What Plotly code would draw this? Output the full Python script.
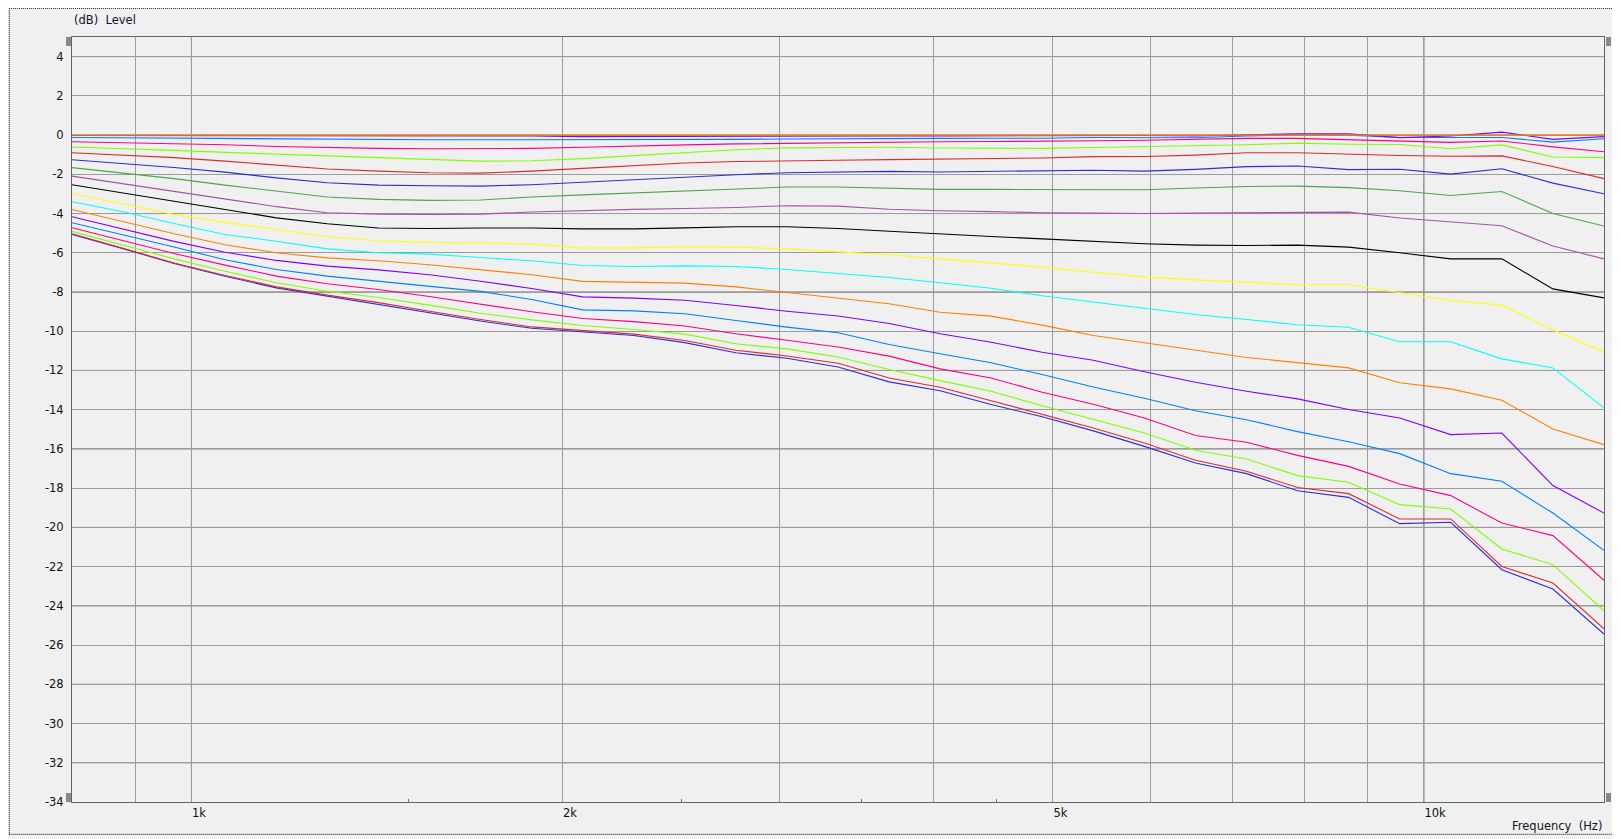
import plotly.graph_objects as go

# ---------------- data ----------------
freqs_hz = [800, 880, 968, 1065, 1172, 1289, 1418, 1560, 1716, 1888, 2077, 2285, 2514, 2765,
            3042, 3347, 3682, 4050, 4455, 4901, 5392, 5932, 6526, 7179, 7897, 8688, 9558,
            10514, 11567, 12725, 14000]

s01_orange = [0.0] * 31
s02_purple = [-0.02, -0.02, -0.02, -0.02, -0.02, -0.02, -0.02, -0.02, -0.02, -0.05, -0.08, -0.08,
              -0.08, -0.08, -0.08, -0.06, -0.05, -0.04, -0.03, -0.02, -0.02, -0.02, -0.05, 0.02,
              0.07, 0.07, -0.13, -0.05, 0.15, -0.22, -0.08]
s03_azure = [-0.12, -0.14, -0.16, -0.18, -0.20, -0.22, -0.23, -0.24, -0.24, -0.24, -0.23, -0.22,
             -0.22, -0.22, -0.20, -0.18, -0.17, -0.17, -0.16, -0.16, -0.12, -0.12, -0.14, -0.05,
             0.02, 0.0, -0.12, -0.12, -0.12, -0.36, -0.19]
s04_pink = [-0.34, -0.39, -0.44, -0.49, -0.58, -0.64, -0.68, -0.70, -0.70, -0.68, -0.62, -0.55,
            -0.50, -0.45, -0.42, -0.38, -0.36, -0.34, -0.33, -0.32, -0.29, -0.26, -0.22, -0.17,
            -0.17, -0.23, -0.28, -0.37, -0.30, -0.60, -0.85]
s05_lime = [-0.61, -0.68, -0.78, -0.88, -0.97, -1.09, -1.17, -1.27, -1.33, -1.31, -1.20, -1.05,
            -0.90, -0.75, -0.65, -0.62, -0.62, -0.66, -0.68, -0.68, -0.63, -0.58, -0.56, -0.49,
            -0.41, -0.47, -0.48, -0.70, -0.50, -1.12, -1.15]
s06_red = [-0.90, -1.02, -1.15, -1.33, -1.53, -1.73, -1.84, -1.92, -1.94, -1.84, -1.70, -1.55,
           -1.42, -1.35, -1.30, -1.28, -1.25, -1.22, -1.20, -1.17, -1.10, -1.09, -1.02, -0.90,
           -0.90, -0.98, -1.04, -1.08, -1.06, -1.60, -2.22]
s07_blue = [-1.26, -1.44, -1.65, -1.89, -2.18, -2.43, -2.55, -2.58, -2.60, -2.53, -2.40, -2.28,
            -2.15, -2.02, -1.92, -1.88, -1.85, -1.88, -1.85, -1.82, -1.79, -1.84, -1.75, -1.61,
            -1.58, -1.76, -1.74, -1.99, -1.72, -2.45, -2.99]
s08_green = [-1.66, -1.94, -2.22, -2.55, -2.87, -3.16, -3.28, -3.33, -3.31, -3.16, -3.05, -2.95,
             -2.85, -2.75, -2.65, -2.65, -2.72, -2.77, -2.77, -2.77, -2.77, -2.79, -2.70, -2.62,
             -2.60, -2.68, -2.84, -3.08, -2.88, -4.00, -4.64]
s09_violet = [-2.09, -2.48, -2.86, -3.23, -3.65, -3.96, -4.03, -4.05, -4.03, -3.92, -3.84, -3.79,
              -3.74, -3.69, -3.60, -3.62, -3.78, -3.86, -3.90, -3.96, -3.98, -4.00, -3.98, -3.96,
              -3.93, -3.93, -4.23, -4.43, -4.62, -5.66, -6.31]
s10_black = [-2.53, -2.94, -3.35, -3.79, -4.22, -4.52, -4.74, -4.76, -4.74, -4.74, -4.78, -4.78,
             -4.73, -4.67, -4.67, -4.76, -4.90, -5.05, -5.17, -5.29, -5.41, -5.54, -5.61, -5.63,
             -5.61, -5.71, -6.00, -6.31, -6.31, -7.84, -8.30]
s11_yellow = [-2.99, -3.50, -4.05, -4.45, -4.81, -5.18, -5.39, -5.47, -5.49, -5.56, -5.76, -5.75,
              -5.69, -5.71, -5.80, -5.95, -6.10, -6.31, -6.53, -6.73, -6.99, -7.23, -7.38, -7.50,
              -7.63, -7.63, -8.04, -8.43, -8.67, -9.93, -11.07]
s12_cyan = [-3.40, -3.91, -4.51, -5.07, -5.41, -5.80, -6.00, -6.07, -6.24, -6.41, -6.65, -6.70,
            -6.67, -6.70, -6.85, -7.06, -7.26, -7.53, -7.81, -8.19, -8.52, -8.84, -9.15, -9.40,
            -9.67, -9.80, -10.54, -10.54, -11.41, -11.87, -13.91]
s13_orange = [-3.79, -4.40, -5.03, -5.59, -6.00, -6.26, -6.41, -6.61, -6.85, -7.12, -7.46, -7.52,
              -7.55, -7.74, -8.03, -8.30, -8.60, -9.03, -9.23, -9.69, -10.22, -10.59, -10.97,
              -11.34, -11.60, -11.87, -12.63, -12.94, -13.52, -14.98, -15.78]
s14_purple = [-4.16, -4.79, -5.42, -5.97, -6.39, -6.68, -6.87, -7.12, -7.45, -7.82, -8.25, -8.31,
              -8.42, -8.69, -8.98, -9.22, -9.61, -10.13, -10.56, -11.07, -11.48, -12.07, -12.60,
              -13.06, -13.45, -13.99, -14.42, -15.27, -15.19, -17.87, -19.27]
s15_azure = [-4.47, -5.08, -5.71, -6.36, -6.85, -7.19, -7.46, -7.72, -7.97, -8.38, -8.91, -8.96,
             -9.11, -9.45, -9.79, -10.08, -10.68, -11.15, -11.61, -12.21, -12.84, -13.42, -14.05,
             -14.51, -15.12, -15.63, -16.24, -17.26, -17.65, -19.27, -21.17]
s16_pink = [-4.72, -5.37, -6.04, -6.63, -7.19, -7.58, -7.87, -8.23, -8.62, -9.01, -9.35, -9.51,
            -9.73, -10.13, -10.46, -10.80, -11.27, -11.92, -12.38, -13.11, -13.72, -14.42, -15.32,
            -15.66, -16.33, -16.89, -17.79, -18.38, -19.78, -20.42, -22.70]
s17_lime = [-4.91, -5.61, -6.31, -6.94, -7.53, -7.96, -8.28, -8.67, -9.08, -9.42, -9.71, -9.91,
            -10.15, -10.64, -10.90, -11.31, -11.95, -12.52, -13.06, -13.80, -14.51, -15.19,
            -16.07, -16.51, -17.36, -17.70, -18.84, -19.06, -21.10, -21.90, -24.25]
s18_red = [-5.03, -5.76, -6.52, -7.16, -7.74, -8.16, -8.54, -8.98, -9.40, -9.78, -9.97, -10.15,
           -10.47, -10.97, -11.26, -11.63, -12.38, -12.86, -13.54, -14.25, -14.93, -15.70, -16.58,
           -17.14, -17.97, -18.28, -19.57, -19.57, -21.99, -22.84, -25.17]
s19_blue = [-5.07, -5.79, -6.55, -7.20, -7.79, -8.21, -8.60, -9.05, -9.48, -9.85, -10.03, -10.22,
            -10.58, -11.10, -11.38, -11.82, -12.58, -13.03, -13.74, -14.36, -15.08, -15.87,
            -16.72, -17.26, -18.13, -18.47, -19.81, -19.74, -22.16, -23.14, -25.44]

series = [s01_orange, s02_purple, s03_azure, s04_pink, s05_lime, s06_red, s07_blue, s08_green,
          s09_violet, s10_black, s11_yellow, s12_cyan, s13_orange, s14_purple, s15_azure,
          s16_pink, s17_lime, s18_red, s19_blue]
colors = ["#ff8000", "#8000ff", "#0080ff", "#ff0080", "#80ff00", "#dd2c2c", "#2c2cdd", "#4ca64c",
          "#aa4faa", "#000000", "#ffff00", "#00ffff", "#ff8000", "#8000ff", "#0080ff", "#ff0080",
          "#80ff00", "#dd2c2c", "#2c2cdd"]

x_grid = [900, 1000, 2000, 3000, 4000, 5000, 6000, 7000, 8000, 9000, 10000]
x_grid_text = ["", "1k", "2k", "", "", "5k", "", "", "", "", "10k"]
x_dark = [1000, 10000]
x_minor = [1500, 2500, 3500, 4500]
y_ticks = list(range(-34, 5, 2))
y_tick_text = [str(v) for v in y_ticks]
y_dark = list(range(-32, 5, 4))

FONT = "DejaVu Sans"
FSIZE = 11.5
DARK = "#6a6a6a"
LIGHT = "#9c9c9c"

fig = go.Figure()
for ys, c in reversed(list(zip(series, colors))):
    fig.add_trace(go.Scatter(x=freqs_hz, y=ys, mode="lines",
                             line=dict(color=c, width=1.1), hoverinfo="skip"))

shapes = []
for yv in y_dark:
    shapes.append(dict(type="line", xref="paper", yref="y", x0=0, x1=1, y0=yv, y1=yv,
                       line=dict(color=DARK, width=1), layer="below"))
for xv in x_dark:
    shapes.append(dict(type="line", xref="x", yref="paper", x0=xv, x1=xv, y0=0, y1=1,
                       line=dict(color=DARK, width=1), layer="below"))
# outer dotted frame
shapes.append(dict(type="rect", xref="paper", yref="paper", x0=-0.0409, x1=1.02, y0=-0.0422,
                   y1=1.0375, line=dict(color="#000000", width=1, dash="1px,1px"), layer="below"))
# small scroll markers at axis ends
for xa, xs in ((0, (-6, -1)), (1, (2, 7))):
    for ya, ys_ in ((1, (0, -9)), (0, (0, 9))):
        shapes.append(dict(type="rect", xref="paper", yref="paper",
                           xsizemode="pixel", ysizemode="pixel", xanchor=xa, yanchor=ya,
                           x0=xs[0], x1=xs[1], y0=ys_[0], y1=ys_[1],
                           fillcolor="#888888", line=dict(width=0)))

# page body has an 8px default margin, so the figure is 8px smaller and offset accordingly
fig.update_layout(
    width=1612, height=831,
    margin=dict(l=64, r=16, t=29, b=37),
    paper_bgcolor="#f0f0f0", plot_bgcolor="#f0f0f0",
    showlegend=False,
    font=dict(family=FONT, size=FSIZE, color="#111111"),
    shapes=shapes,
    xaxis=dict(type="log", range=[2.90309, 4.146128], tickmode="array", tickvals=x_grid,
               ticktext=x_grid_text, ticks="", showgrid=True, gridcolor=LIGHT, gridwidth=1,
               showline=True, linecolor="#646464", linewidth=1, mirror=True, zeroline=False,
               ticklabelposition="outside right",
               tickfont=dict(family=FONT, size=FSIZE, color="#111111"),
               minor=dict(tickmode="array", tickvals=x_minor, ticks="inside", ticklen=3,
                          tickcolor="#777777", tickwidth=1, showgrid=False)),
    yaxis=dict(range=[-34, 5], tickmode="array", tickvals=y_ticks, ticktext=y_tick_text,
               ticks="", showgrid=True,
               gridcolor=LIGHT, gridwidth=1, showline=True, linecolor="#646464", linewidth=1,
               mirror=True, zeroline=False, ticklabelstandoff=5,
               tickfont=dict(family=FONT, size=FSIZE, color="#111111")),
    annotations=[
        dict(text="(dB)&nbsp;&nbsp;Level", xref="paper", yref="paper", x=0, y=1.0222,
             xanchor="left", yanchor="middle", showarrow=False,
             font=dict(family=FONT, size=FSIZE, color="#141428")),
        dict(text="Frequency&nbsp;&nbsp;(Hz)", xref="paper", yref="paper", x=1, y=-0.0314,
             xanchor="right", yanchor="middle", showarrow=False,
             font=dict(family=FONT, size=FSIZE, color="#141428")),
    ],
)

fig.write_html("out.html")
